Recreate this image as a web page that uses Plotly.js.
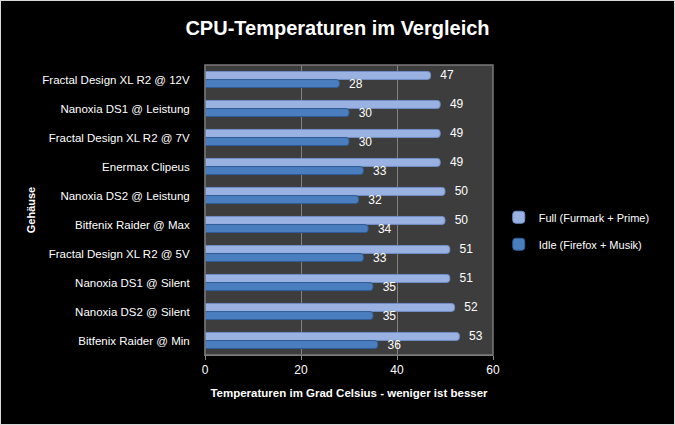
<!DOCTYPE html>
<html>
<head>
<meta charset="utf-8">
<script src="https://cdn.plot.ly/plotly-3.0.1.min.js"></script>
<style>
  html, body { margin: 0; padding: 0; background: #d8d8d8; }
  #chart { position: absolute; left: 1px; top: 1px; width: 673px; height: 423px; }
</style>
</head>
<body>
<div id="chart"></div>
<script>
const categories = [
  "Fractal Design XL R2 @ 12V",
  "Nanoxia DS1 @ Leistung",
  "Fractal Design XL R2 @ 7V",
  "Enermax Clipeus",
  "Nanoxia DS2 @ Leistung",
  "Bitfenix Raider @ Max",
  "Fractal Design XL R2 @ 5V",
  "Nanoxia DS1 @ Silent",
  "Nanoxia DS2 @ Silent",
  "Bitfenix Raider @ Min"
];
const fullValues = [47, 49, 49, 49, 50, 50, 51, 51, 52, 53];
const idleValues = [28, 30, 30, 33, 32, 34, 33, 35, 35, 36];
const seriesNames = ["Full (Furmark + Prime)", "Idle (Firefox + Musik)"];
const xTicks = [0, 20, 40, 60];

const font = "Liberation Sans, Arial, sans-serif";

const traces = [
  {
    type: "bar", orientation: "h", name: seriesNames[0],
    y: categories, x: fullValues,
    text: fullValues.map(String), texttemplate: "  %{text}", textposition: "outside",
    constraintext: "none",
    textfont: {color: "#ffffff", size: 12, family: font},
    cliponaxis: false,
    marker: {color: "#9ab2e2", line: {color: "#6f8ec8", width: 1}},
    legendgroup: "a"
  },
  {
    type: "bar", orientation: "h", name: seriesNames[1],
    y: categories, x: idleValues,
    text: idleValues.map(String), texttemplate: "  %{text}", textposition: "outside",
    constraintext: "none",
    textfont: {color: "#ffffff", size: 12, family: font},
    cliponaxis: false,
    marker: {color: "#4a7ebf", line: {color: "#2f5c96", width: 1}},
    legendgroup: "b"
  }
];

const layout = {
  width: 673, height: 423,
  paper_bgcolor: "#000000",
  plot_bgcolor: "#3d3d3d",
  margin: {l: 204, r: 181, t: 64, b: 69},
  font: {family: font, color: "#ffffff", size: 12},
  title: {
    text: "<b>CPU-Temperaturen im Vergleich</b>",
    font: {size: 20, color: "#ffffff", family: font},
    x: 0.5, xanchor: "center", y: 0.935, yanchor: "middle"
  },
  barmode: "group",
  bargap: 0.44,
  bargroupgap: 0.02,
  barcornerradius: 3,
  showlegend: true,
  legend: {
    x: 1.02, xanchor: "left", y: 0.525, yanchor: "top",
    font: {size: 11, color: "#ffffff", family: font},
    bgcolor: "rgba(0,0,0,0)",
    traceorder: "grouped", tracegroupgap: 8
  },
  xaxis: {
    range: [0, 60], tickvals: xTicks, ticktext: xTicks.map(String),
    showgrid: true, gridcolor: "#828282", gridwidth: 1,
    zeroline: false,
    showline: true, linecolor: "#8a8a8a", linewidth: 1,
    ticks: "outside", ticklen: 4, tickcolor: "#8a8a8a",
    tickfont: {size: 12, color: "#ffffff", family: font},
    title: {text: "<b>Temperaturen im Grad Celsius - weniger ist besser</b>",
            font: {size: 11.5, color: "#ffffff", family: font}, standoff: 12},
    fixedrange: true
  },
  yaxis: {
    autorange: "reversed",
    showgrid: false, zeroline: false,
    showline: true, linecolor: "#2a2a2a", linewidth: 1,
    ticks: "", ticklabelstandoff: 12,
    tickfont: {size: 11.5, color: "#ffffff", family: font},
    title: {text: "<b>Gehäuse</b>", font: {size: 11, color: "#ffffff", family: font}, standoff: 4},
    fixedrange: true
  },
  shapes: [
    {type: "rect", xref: "paper", yref: "paper", x0: 0, x1: 1, y0: 0, y1: 1,
     line: {color: "#7a7a7a", width: 1.5}, layer: "above"}
  ]
};

Plotly.newPlot("chart", traces, layout, {displayModeBar: false, staticPlot: true});
</script>
</body>
</html>
